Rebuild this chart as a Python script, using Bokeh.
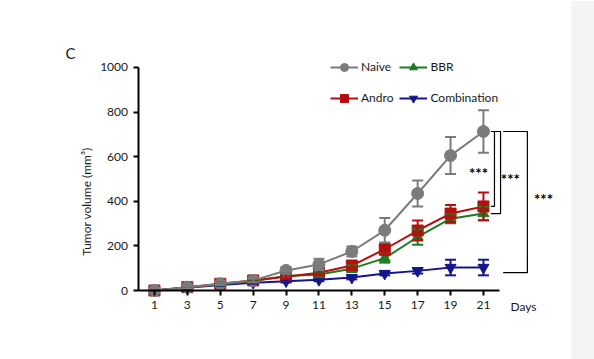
import numpy as np
from bokeh.plotting import figure
from bokeh.models import (ColumnDataSource, Whisker, TeeHead, FixedTicker, Legend, LegendItem,
                          Label, BoxAnnotation, Range1d)
from bokeh.core.properties import value
from bokeh.embed import file_html
from bokeh.resources import INLINE

# ---------------- data ----------------
days = [1, 3, 5, 7, 9, 11, 13, 15, 17, 19, 21]
naive = [0, 15, 30, 45, 90, 117, 175, 270, 435, 605, 713]
naive_err = [0, 5, 5, 8, 15, 25, 22, 55, 58, 83, 95]
andro = [0, 15, 30, 45, 62, 80, 112, 185, 269, 345, 377]
andro_err = [0, 4, 5, 6, 10, 12, 18, 25, 45, 38, 62]
bbr = [0, 14, 28, 42, 65, 72, 98, 145, 240, 322, 345]
bbr_err = [0, 4, 5, 6, 10, 12, 15, 20, 35, 20, 30]
combo = [0, 12, 25, 35, 42, 48, 58, 76, 88, 103, 103]
combo_err = [0, 3, 4, 5, 6, 6, 8, 8, 12, 35, 35]
y_ticks = [0, 200, 400, 600, 800, 1000]
x_ticks = days
series_names = ["Naive", "BBR", "Andro", "Combination"]
stars = ["***", "***", "***"]

FONT = "Lato"
colors = {"Naive": "#7b7b7b", "BBR": "#1e7b1e", "Andro": "#b40f0f", "Combination": "#15158c"}
markers = {"Naive": "circle", "BBR": "triangle", "Andro": "square", "Combination": "inverted_triangle"}
sizes = {"Naive": 12, "BBR": 11, "Andro": 11, "Combination": 11}

p = figure(width=594, height=359, output_backend="svg", toolbar_location=None,
           x_range=Range1d(-8.359, 27.751), y_range=Range1d(-309.4, 1300.4),
           min_border=0, min_border_left=0, min_border_right=0, min_border_top=0, min_border_bottom=0,
           outline_line_color=None)
p.grid.visible = False
p.background_fill_color = "white"
p.border_fill_color = "white"

# gray panel on the right
p.add_layout(BoxAnnotation(left=26.35, fill_color="#f4f4f4", fill_alpha=1, line_color=None, level="underlay"))

# axes
xa = p.xaxis[0]
xa.fixed_location = 0
xa.bounds = (0, 22)
xa.ticker = FixedTicker(ticks=x_ticks)
ya = p.yaxis[0]
ya.fixed_location = 0
ya.bounds = (0, 1000)
ya.ticker = FixedTicker(ticks=y_ticks)
for ax in (xa, ya):
    ax.axis_line_width = 2
    ax.axis_line_color = "black"
    ax.major_tick_line_width = 2
    ax.major_tick_line_color = "black"
    ax.major_tick_out = 5
    ax.major_tick_in = 0
    ax.minor_tick_line_color = None
    ax.major_label_text_font = FONT
    ax.major_label_text_font_size = "12px"
    ax.major_label_text_color = "#1a1a1a"
    ax.major_label_standoff = 5
    ax.axis_label = None

series = {"Naive": (naive, naive_err), "Andro": (andro, andro_err),
          "BBR": (bbr, bbr_err), "Combination": (combo, combo_err)}

renderers = {}
for name in ["Combination", "BBR", "Andro", "Naive"]:
    vals, errs = series[name]
    v = np.array(vals, dtype=float)
    e = np.array(errs, dtype=float)
    src = ColumnDataSource(dict(x=days, y=v, lo=v - e, hi=v + e))
    c = colors[name]
    w = Whisker(base="x", lower="lo", upper="hi", source=src, line_color=c, line_width=2,
                upper_head=TeeHead(size=11, line_color=c, line_width=2),
                lower_head=TeeHead(size=11, line_color=c, line_width=2), level="glyph")
    p.add_layout(w)
    l = p.line("x", "y", source=src, line_color=c, line_width=2)
    m = p.scatter("x", "y", source=src, marker=markers[name], size=sizes[name],
                  fill_color=c, line_color=c)
    renderers[name] = (l, m)

legend = Legend(items=[LegendItem(label=n, renderers=list(renderers[n])) for n in series_names],
                orientation="horizontal", ncols=2, location=(330, 249),
                glyph_width=28, glyph_height=20, label_height=25, spacing=6, label_standoff=3,
                padding=0, margin=0, border_line_color=None, background_fill_alpha=0,
                label_text_font=FONT, label_text_font_size="12px", label_text_color="#1a1a1a")
p.add_layout(legend, "center")

# significance brackets
bx = [[21.45, 21.67, 21.67, 21.45],
      [21.67, 22.04, 22.04, 21.45],
      [22.2, 23.67, 23.67, 22.2]]
by = [[naive[-1], naive[-1], andro[-1], andro[-1]],
      [naive[-1], naive[-1], bbr[-1], bbr[-1]],
      [naive[-1], naive[-1], 80, 80]]
p.multi_line(bx, by, line_color="black", line_width=1.2)
p.text(x=[20.7, 22.64, 24.65], y=[543, 516, 430], text=stars, text_font=value(FONT),
       text_font_size="15px", text_font_style="bold", text_align="center", text_baseline="middle",
       y_offset=4, text_color="black")

# labels
p.add_layout(Label(x=-4.41, y=1067, text="C", text_font=FONT, text_font_size="15px",
                   text_baseline="middle", text_align="left", text_color="#1a1a1a"))
p.add_layout(Label(x=-3.13, y=399, text="Tumor volume (mm³)", angle=np.pi / 2, text_font=FONT,
                   text_font_size="12px", text_align="center", text_baseline="middle",
                   text_color="#1a1a1a"))
p.add_layout(Label(x=22.64, y=-72, text="Days", text_font=FONT, text_font_size="12px",
                   text_align="left", text_baseline="middle", text_color="#1a1a1a"))

open("out.html", "w").write(file_html(p, INLINE))
